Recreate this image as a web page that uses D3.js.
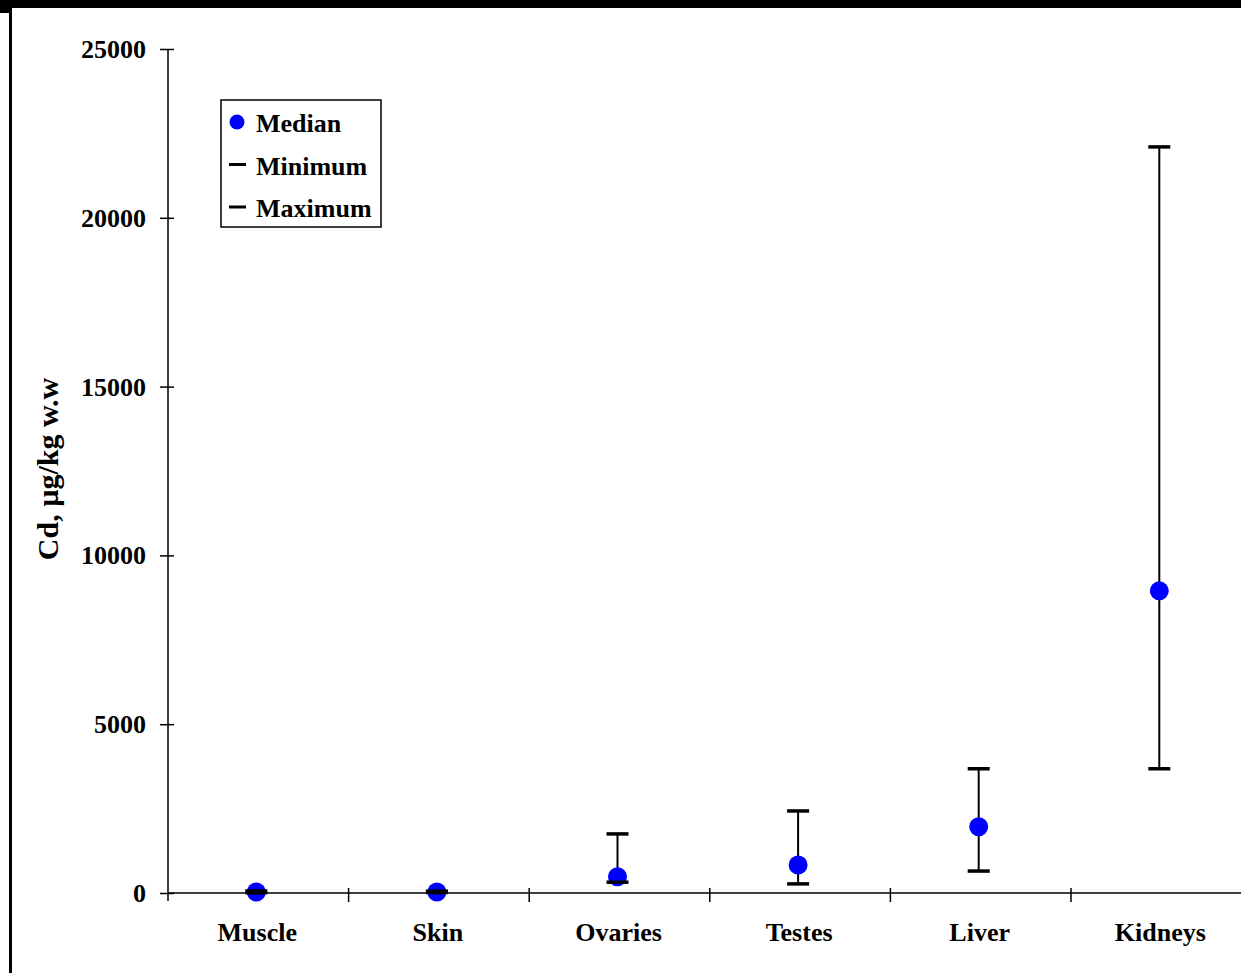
<!DOCTYPE html>
<html>
<head>
<meta charset="utf-8">
<script src="https://cdn.jsdelivr.net/npm/d3@7"></script>
<style>
  body { margin: 0; background: #fff; }
  svg { display: block; font-family: "Liberation Serif", "Times New Roman", serif; font-weight: bold; }
</style>
</head>
<body>
<svg id="chart" width="1241" height="973"></svg>
<script>
// tissues and Cd values (µg/kg w.w)
const tissues = ["Muscle", "Skin", "Ovaries", "Testes", "Liver", "Kidneys"];
const median_vals = [30, 30, 480, 830, 1960, 8950];
const min_vals = [10, 15, 320, 270, 650, 3680];
const max_vals = [60, 55, 1750, 2430, 3680, 22100];
const y_ticks = [0, 5000, 10000, 15000, 20000, 25000];
const legend_items = ["Median", "Minimum", "Maximum"];

const svg = d3.select("#chart");

const plot_left = 168, plot_top = 49, plot_bottom = 893;
const step = 180.6;

// page frame
svg.append("rect").attr("x", 0).attr("y", 0).attr("width", 1241).attr("height", 8).style("fill", "#000");
svg.append("rect").attr("x", 0).attr("y", 0).attr("width", 10).attr("height", 13).style("fill", "#000");
svg.append("line").attr("x1", 10.5).attr("x2", 10.5).attr("y1", 0).attr("y2", 973)
  .style("stroke", "#000").style("stroke-width", 3);

const x_scale = d3.scaleBand()
  .domain(tissues)
  .range([plot_left, plot_left + step * tissues.length])
  .padding(0);

const y_scale = d3.scaleLinear()
  .domain([0, 25000])
  .range([plot_bottom, plot_top]);

// y axis
const y_axis = svg.append("g")
  .attr("transform", `translate(${plot_left}, 0)`)
  .call(d3.axisLeft(y_scale).tickValues(y_ticks).tickFormat(d3.format("d")).tickSizeOuter(0));

y_axis.select(".domain").remove();
y_axis.append("line")
  .attr("x1", 0).attr("x2", 0)
  .attr("y1", y_scale(25000)).attr("y2", plot_bottom + 8)
  .style("stroke", "#000").style("stroke-width", 1.5);
y_axis.selectAll(".tick line")
  .attr("x1", -8).attr("x2", 6)
  .style("stroke", "#000").style("stroke-width", 1.5);
y_axis.selectAll(".tick text")
  .attr("x", -22)
  .attr("dy", "0.33em")
  .style("font-family", "Liberation Serif, serif")
  .style("font-weight", "bold")
  .style("font-size", "26px")
  .style("fill", "#000");

// x axis
const x_axis = svg.append("g");
x_axis.append("line")
  .attr("x1", plot_left).attr("x2", 1241)
  .attr("y1", plot_bottom).attr("y2", plot_bottom)
  .style("stroke", "#000").style("stroke-width", 1.5);

x_axis.selectAll(".xtick")
  .data(tissues.slice(1))
  .enter()
  .append("line")
  .attr("class", "xtick")
  .attr("x1", (d) => x_scale(d))
  .attr("x2", (d) => x_scale(d))
  .attr("y1", plot_bottom - 5)
  .attr("y2", plot_bottom + 9)
  .style("stroke", "#000").style("stroke-width", 1.5);

x_axis.selectAll(".xlabel")
  .data(tissues)
  .enter()
  .append("text")
  .attr("class", "xlabel")
  .attr("x", (d) => x_scale(d) + x_scale.bandwidth() / 2 - 1)
  .attr("y", 941)
  .attr("text-anchor", "middle")
  .style("font-size", "26px")
  .text((d) => d);

// y label
svg.append("text")
  .attr("transform", `translate(58, 469)rotate(-90)`)
  .attr("text-anchor", "middle")
  .style("font-size", "30px")
  .text("Cd, µg/kg w.w");

// data marks
const rows = tissues.map((t, i) => ({name: t, med: median_vals[i], lo: min_vals[i], hi: max_vals[i]}));
const cx = (d) => x_scale(d.name) + x_scale.bandwidth() / 2 - 2;

const marks = svg.append("g");

marks.selectAll(".whisker")
  .data(rows)
  .enter()
  .append("line")
  .attr("class", "whisker")
  .attr("x1", cx).attr("x2", cx)
  .attr("y1", (d) => y_scale(d.lo))
  .attr("y2", (d) => y_scale(d.hi))
  .style("stroke", "#000").style("stroke-width", 2);

marks.selectAll(".dot")
  .data(rows)
  .enter()
  .append("circle")
  .attr("class", "dot")
  .attr("cx", cx)
  .attr("cy", (d) => y_scale(d.med))
  .attr("r", 9.5)
  .style("fill", "#0000ff");

["lo", "hi"].forEach((k) => {
  marks.selectAll(".cap-" + k)
    .data(rows)
    .enter()
    .append("line")
    .attr("class", "cap-" + k)
    .attr("x1", (d) => cx(d) - 11)
    .attr("x2", (d) => cx(d) + 11)
    .attr("y1", (d) => y_scale(d[k]))
    .attr("y2", (d) => y_scale(d[k]))
    .style("stroke", "#000").style("stroke-width", 3.5);
});

// legend
const legend = svg.append("g").attr("transform", "translate(221, 100)");
legend.append("rect")
  .attr("width", 160).attr("height", 127)
  .style("fill", "#fff").style("stroke", "#000").style("stroke-width", 1.5);

const items = legend.selectAll(".item")
  .data(legend_items)
  .enter()
  .append("g")
  .attr("class", "item")
  .attr("transform", (d, i) => `translate(0, ${22 + i * 42.5})`);

items.filter((d, i) => i === 0)
  .append("circle")
  .attr("cx", 16).attr("cy", 0).attr("r", 7.5)
  .style("fill", "#0000ff");

items.filter((d, i) => i > 0)
  .append("line")
  .attr("x1", 8).attr("x2", 25)
  .attr("y1", 0).attr("y2", 0)
  .style("stroke", "#000").style("stroke-width", 3);

items.append("text")
  .attr("x", 35)
  .attr("y", 10)
  .style("font-size", "26px")
  .text((d) => d);
</script>
</body>
</html>
